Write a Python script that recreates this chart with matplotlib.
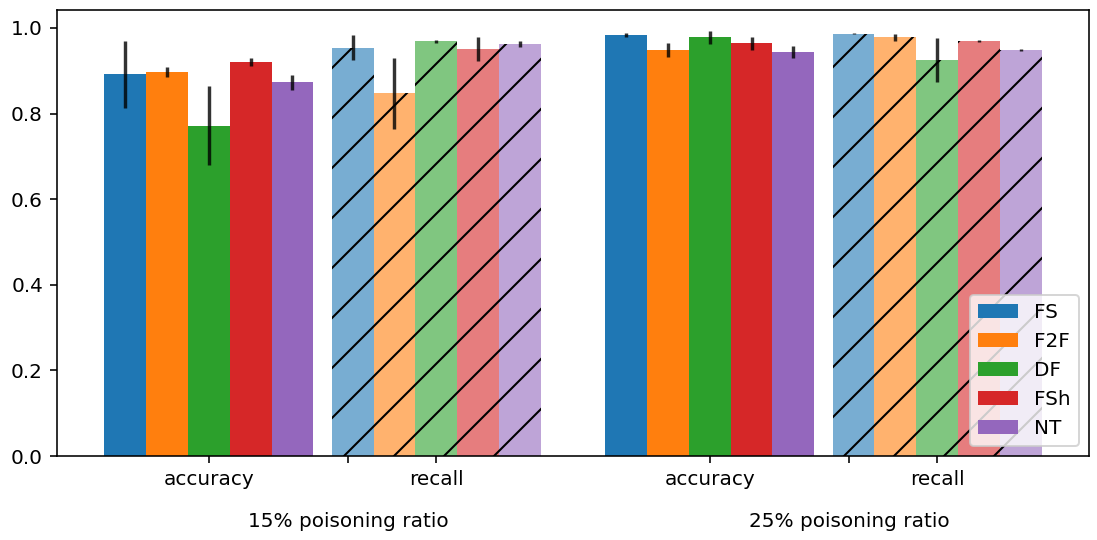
import matplotlib
matplotlib.use("Agg")
import matplotlib.pyplot as plt
import numpy as np

# ---- data ----
methods = ["FS", "F2F", "DF", "FSh", "NT"]
metrics = ["accuracy", "recall"]
ratios = ["15% poisoning ratio", "25% poisoning ratio"]

acc15 = [0.892, 0.897, 0.772, 0.921, 0.873]
acc15_err = [0.078, 0.011, 0.093, 0.009, 0.018]
rec15 = [0.954, 0.848, 0.969, 0.950, 0.963]
rec15_err = [0.029, 0.083, 0.003, 0.028, 0.007]
acc25 = [0.984, 0.949, 0.978, 0.964, 0.945]
acc25_err = [0.004, 0.016, 0.016, 0.016, 0.014]
rec25 = [0.987, 0.978, 0.925, 0.969, 0.949]
rec25_err = [0.002, 0.008, 0.052, 0.002, 0.002]

colors = ["#1f77b4", "#ff7f0e", "#2ca02c", "#d62728", "#9467bd"]

# ---- scaling: render at 150 dpi, sizes as if at 144 dpi ----
DPI = 150
S = 144.0 / DPI
plt.rcParams.update({
    "font.size": 10 * S,
    "axes.linewidth": 0.8 * S,
    "xtick.major.size": 3.5 * S, "xtick.major.width": 0.8 * S, "xtick.major.pad": 3.5 * S,
    "ytick.major.size": 3.5 * S, "ytick.major.width": 0.8 * S, "ytick.major.pad": 3.5 * S,
    "xtick.minor.size": 3.5 * S, "xtick.minor.width": 0.8 * S,
    "lines.linewidth": 1.5 * S,
    "patch.linewidth": 1.0 * S,
    "hatch.linewidth": 1.0,
    "hatch.color": "black",
})

fig = plt.figure(figsize=(1097 / DPI, 540 / DPI), dpi=DPI)
ax = fig.add_axes([57 / 1097, 1 - 456 / 540, (1089 - 57) / 1097, (456 - 10) / 540])

w = 0.184
group_x = [0.0, 1.0, 2.2, 3.2]
series = [(acc15, acc15_err, False), (rec15, rec15_err, True),
          (acc25, acc25_err, False), (rec25, rec25_err, True)]
offsets = (np.arange(len(methods)) - 2) * w

for gi, (vals, errs, is_recall) in enumerate(series):
    for mi, m in enumerate(methods):
        x = group_x[gi] + offsets[mi]
        ax.bar(x, vals[mi], width=w, color=colors[mi],
               alpha=0.6 if is_recall else 1.0,
               hatch="/" if is_recall else None, linewidth=0,
               label=m if gi == 0 else None)
        ax.errorbar(x, vals[mi], yerr=errs[mi], fmt="none", ecolor="black",
                    elinewidth=1.7 * S, alpha=0.8, capsize=0)

ax.set_ylim(0, 1.042)
ax.set_yticks([0.0, 0.2, 0.4, 0.6, 0.8, 1.0])
ax.set_xticks(group_x, metrics * 2)
minor_x = [0.614, 2.814]
ax.set_xticks(minor_x, ratios, minor=True)
ax.tick_params(axis="x", which="minor", pad=49 * 72 / DPI)

ax.legend(loc="lower right")

fig.savefig("out.png", dpi=DPI)
